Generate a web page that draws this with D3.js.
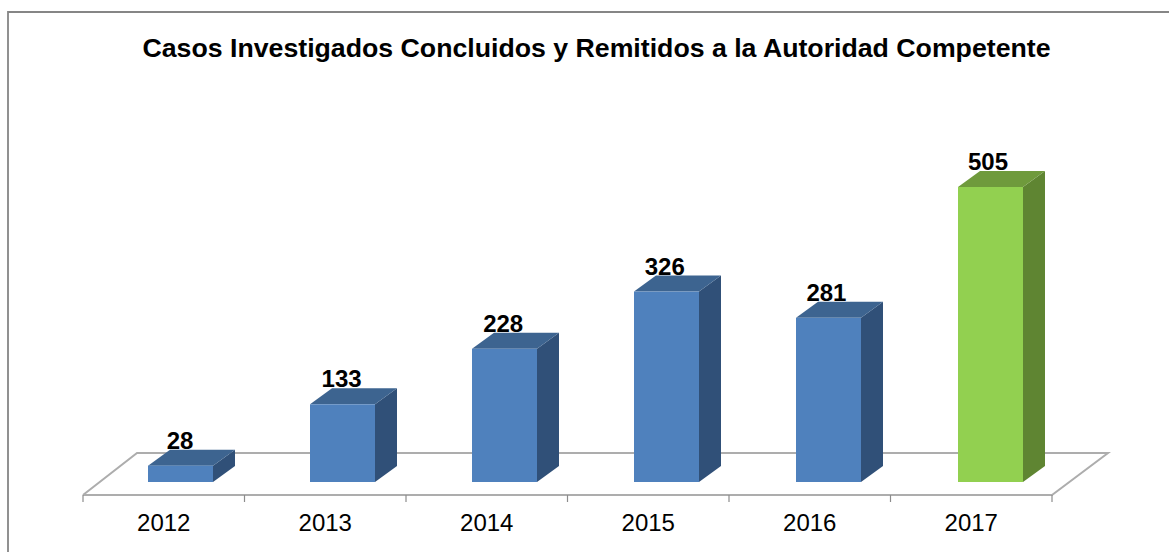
<!DOCTYPE html>
<html>
<head>
<meta charset="utf-8">
<script src="https://cdn.jsdelivr.net/npm/d3@7.9.0/dist/d3.min.js"></script>
<style>
  body { margin: 0; background: #fff; }
  svg { display: block; font-family: "Liberation Sans", Arial, sans-serif; }
</style>
</head>
<body>
<svg id="chart" width="1169" height="552"></svg>
<script>
const chartTitle = "Casos Investigados Concluidos y Remitidos a la Autoridad Competente";
const years = ["2012", "2013", "2014", "2015", "2016", "2017"];
const casos = [28, 133, 228, 326, 281, 505];
const highlightYear = "2017";

const svg = d3.select("#chart");

// frame, only left and top are visible in the cropped original
svg.append("path")
    .attr("d", "M8,552V12H1169")
    .attr("fill", "none")
    .attr("stroke", "#868686")
    .attr("stroke-width", 1.8);

svg.append("text")
    .attr("x", 596.5)
    .attr("y", 57)
    .attr("text-anchor", "middle")
    .attr("font-size", 26.7)
    .attr("font-weight", "bold")
    .attr("fill", "#000")
    .text(chartTitle);

const x = d3.scaleBand().domain(years).range([83, 1052]);
const barX = d3.scalePoint().domain(years).range([148, 958]);
const labelX = d3.scalePoint().domain(years).range([180, 988]);
const y = d3.scaleLinear().domain([0, 505]).range([482, 187]);

const floorY = 495;
const floorDx = 54, floorDy = -42; // depth of the floor
const barDx = 22, barDy = -16;     // depth of the bars
const barW = 65;

// floor
svg.append("path")
    .attr("d", d3.line()([
        [x.range()[0], floorY],
        [x.range()[0] + floorDx, floorY + floorDy],
        [x.range()[1] + floorDx + 2, floorY + floorDy],
        [x.range()[1], floorY],
        [x.range()[0], floorY]
    ]))
    .attr("fill", "#fff")
    .attr("stroke", "#adadad")
    .attr("stroke-width", 2);

// axis ticks sit on the band edges
const tickPos = years.map(d => x(d)).concat([x.range()[1]]);
svg.selectAll(".tick-mark")
    .data(tickPos)
    .join("line")
    .attr("class", "tick-mark")
    .attr("x1", d => d)
    .attr("x2", d => d)
    .attr("y1", floorY)
    .attr("y2", floorY + 7)
    .attr("stroke", "#8c8c8c")
    .attr("stroke-width", 1.2);

svg.selectAll(".year-label")
    .data(years)
    .join("text")
    .attr("class", "year-label")
    .attr("x", d => x(d) + x.bandwidth() / 2)
    .attr("y", 531)
    .attr("text-anchor", "middle")
    .attr("font-size", 24)
    .attr("fill", "#000")
    .text(d => d);

const data = years.map((year, i) => ({ year, value: casos[i] }));
const colorFront = d => d.year === highlightYear ? "#92d050" : "#4f81bd";
const colorTop = d => d.year === highlightYear ? "#6f9a3c" : "#3d6490";
const colorSide = d => d.year === highlightYear ? "#5f8532" : "#305078";

const bars = svg.selectAll(".bar")
    .data(data)
    .join("g")
    .attr("class", "bar");

bars.append("path") // side
    .attr("fill", colorSide)
    .attr("d", d => {
        const r = barX(d.year) + barW;
        return d3.line()([[r, y(d.value)], [r + barDx, y(d.value) + barDy], [r + barDx, y(0) + barDy], [r, y(0)]]) + "Z";
    });

bars.append("path") // top
    .attr("fill", colorTop)
    .attr("d", d => {
        const l = barX(d.year);
        return d3.line()([[l, y(d.value)], [l + barDx, y(d.value) + barDy], [l + barW + barDx, y(d.value) + barDy], [l + barW, y(d.value)]]) + "Z";
    });

bars.append("rect") // front
    .attr("fill", colorFront)
    .attr("x", d => barX(d.year))
    .attr("y", d => y(d.value))
    .attr("width", barW)
    .attr("height", d => y(0) - y(d.value));

bars.append("text")
    .attr("x", d => labelX(d.year))
    .attr("y", d => y(d.value) - 17)
    .attr("text-anchor", "middle")
    .attr("font-size", 24)
    .attr("font-weight", "bold")
    .attr("fill", "#000")
    .text(d => d.value);
</script>
</body>
</html>
